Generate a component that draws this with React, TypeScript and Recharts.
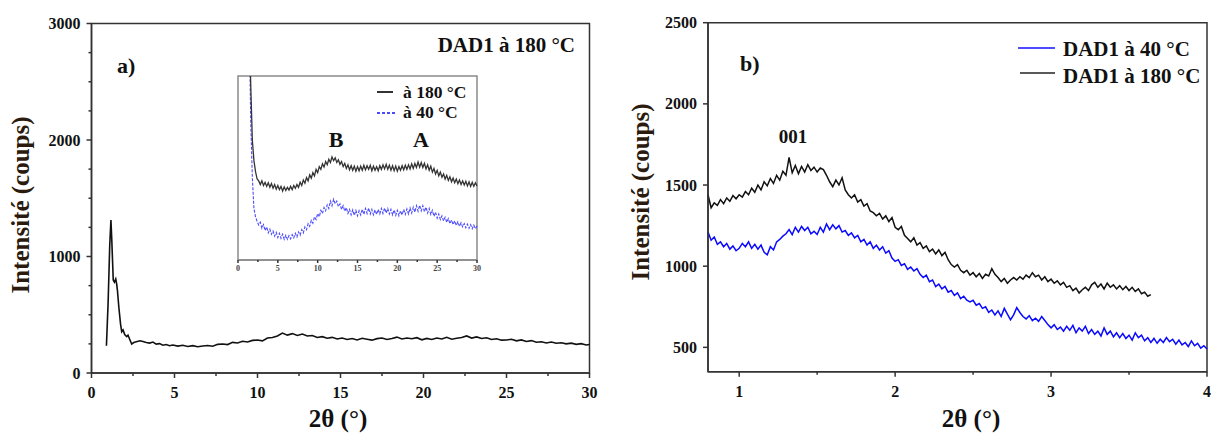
import React from 'react';
import { LineChart, Line, XAxis, YAxis, ReferenceArea } from 'recharts';

const FONT = '"Liberation Serif", "Times New Roman", serif';
const AXIS = '#333';
const TITLE_COLOR = '#2b1a0e';

// a) DAD1 à 180 °C, scan complet
const scan180: [number, number][] = [
  [0.9, 234], [1.0, 600], [1.1, 1100], [1.17, 1313], [1.22, 1150], [1.31, 798], [1.38, 780], [1.46, 807],
  [1.52, 760], [1.56, 712], [1.65, 560], [1.75, 420], [1.82, 355], [1.9, 370], [2.0, 330], [2.12, 312],
  [2.2, 325], [2.3, 290], [2.42, 249], [2.55, 262], [2.7, 268], [2.92, 277], [3.1, 270], [3.3, 262],
  [3.5, 257], [3.7, 266], [3.9, 248], [4.1, 252], [4.3, 238], [4.5, 244], [4.7, 234], [4.9, 240],
  [5.2, 231], [5.5, 238], [5.8, 228], [6.1, 235], [6.4, 226], [6.7, 232], [7.0, 236], [7.3, 230],
  [7.6, 246], [7.9, 249], [8.2, 244], [8.5, 263], [8.8, 258], [9.1, 272], [9.4, 266], [9.7, 280],
  [10.0, 283], [10.3, 276], [10.6, 300], [10.9, 305], [11.2, 318], [11.5, 343], [11.8, 325], [12.1, 338],
  [12.4, 322], [12.7, 335], [13.0, 318], [13.3, 322], [13.6, 305], [13.9, 312], [14.2, 298], [14.5, 306],
  [14.8, 292], [15.1, 300], [15.4, 288], [15.7, 296], [16.0, 284], [16.3, 298], [16.6, 290], [16.9, 282],
  [17.2, 295], [17.5, 300], [17.8, 288], [18.1, 296], [18.4, 308], [18.7, 292], [19.0, 300], [19.3, 294],
  [19.6, 303], [19.9, 285], [20.2, 297], [20.5, 288], [20.8, 300], [21.1, 292], [21.4, 306], [21.7, 290],
  [22.0, 298], [22.3, 305], [22.6, 318], [22.9, 300], [23.2, 310], [23.5, 296], [23.8, 302], [24.1, 288],
  [24.4, 294], [24.7, 282], [25.0, 283], [25.3, 290], [25.6, 276], [25.9, 284], [26.2, 270], [26.5, 278],
  [26.8, 264], [27.1, 268], [27.4, 258], [27.7, 266], [28.0, 255], [28.3, 260], [28.6, 250], [28.9, 256],
  [29.2, 246], [29.5, 252], [29.8, 240], [30.0, 244],
];

// encart : unités arbitraires
const inset180: [number, number][] = [
  [1.4, 2600], [1.6, 1900], [1.8, 1300], [2.0, 1080], [2.2, 960], [2.4, 880], [2.6, 860], [2.8, 820], [3.0, 860],
  [3.2, 810], [3.4, 845], [3.6, 800], [3.8, 840], [4.0, 790], [4.2, 830], [4.4, 780], [4.6, 820], [4.8, 770],
  [5.0, 810], [5.2, 765], [5.4, 800], [5.6, 750], [5.8, 795], [6.0, 755], [6.2, 790], [6.4, 760], [6.6, 800],
  [6.8, 765], [7.0, 810], [7.2, 780], [7.4, 820], [7.6, 790], [7.8, 845], [8.0, 810], [8.2, 870], [8.4, 835],
  [8.6, 895], [8.8, 860], [9.0, 925], [9.2, 890], [9.4, 950], [9.6, 915], [9.8, 985], [10.0, 950], [10.2, 1015],
  [10.4, 985], [10.6, 1045], [10.8, 1010], [11.0, 1070], [11.2, 1035], [11.4, 1095], [11.6, 1060], [11.8, 1120],
  [12.0, 1080], [12.2, 1110], [12.4, 1060], [12.6, 1090], [12.8, 1040], [13.0, 1070], [13.2, 1015], [13.4, 1050],
  [13.6, 995], [13.8, 1035], [14.0, 980], [14.2, 1025], [14.4, 975], [14.6, 1020], [14.8, 965], [15.0, 1015],
  [15.2, 970], [15.4, 1020], [15.6, 975], [15.8, 1030], [16.0, 980], [16.2, 1025], [16.4, 985], [16.6, 1030],
  [16.8, 970], [17.0, 1020], [17.2, 975], [17.4, 1015], [17.6, 970], [17.8, 1025], [18.0, 985], [18.2, 1035],
  [18.4, 990], [18.6, 1040], [18.8, 985], [19.0, 1030], [19.2, 975], [19.4, 1025], [19.6, 970], [19.8, 1020],
  [20.0, 965], [20.2, 1015], [20.4, 975], [20.6, 1025], [20.8, 980], [21.0, 1030], [21.2, 985], [21.4, 1035],
  [21.6, 990], [21.8, 1045], [22.0, 995], [22.2, 1050], [22.4, 1005], [22.6, 1065], [22.8, 1010], [23.0, 1060],
  [23.2, 1005], [23.4, 1050], [23.6, 990], [23.8, 1035], [24.0, 975], [24.2, 1020], [24.4, 955], [24.6, 995],
  [24.8, 935], [25.0, 975], [25.2, 915], [25.4, 955], [25.6, 900], [25.8, 935], [26.0, 880], [26.2, 920],
  [26.4, 865], [26.6, 905], [26.8, 850], [27.0, 890], [27.2, 840], [27.4, 880], [27.6, 830], [27.8, 870],
  [28.0, 820], [28.2, 860], [28.4, 815], [28.6, 855], [28.8, 805], [29.0, 850], [29.2, 800], [29.4, 845],
  [29.6, 800], [29.8, 840], [30.0, 805],
];

const inset40: [number, number][] = [
  [1.4, 2600], [1.6, 1500], [1.8, 900], [2.0, 560], [2.2, 470], [2.4, 420], [2.6, 380], [2.8, 410], [3.0, 345],
  [3.2, 385], [3.4, 320], [3.6, 360], [3.8, 295], [4.0, 335], [4.2, 280], [4.4, 315], [4.6, 260], [4.8, 300],
  [5.0, 245], [5.2, 290], [5.4, 235], [5.6, 280], [5.8, 225], [6.0, 270], [6.2, 225], [6.4, 265], [6.6, 230],
  [6.8, 275], [7.0, 240], [7.2, 290], [7.4, 250], [7.6, 305], [7.8, 270], [8.0, 330], [8.2, 295], [8.4, 360],
  [8.6, 330], [8.8, 395], [9.0, 365], [9.2, 430], [9.4, 400], [9.6, 470], [9.8, 440], [10.0, 505], [10.2, 470],
  [10.4, 540], [10.6, 505], [10.8, 570], [11.0, 535], [11.2, 600], [11.4, 560], [11.6, 640], [11.8, 590],
  [12.0, 660], [12.2, 610], [12.4, 640], [12.6, 580], [12.8, 610], [13.0, 550], [13.2, 590], [13.4, 530],
  [13.6, 570], [13.8, 505], [14.0, 550], [14.2, 490], [14.4, 545], [14.6, 485], [14.8, 540], [15.0, 480],
  [15.2, 535], [15.4, 490], [15.6, 550], [15.8, 495], [16.0, 560], [16.2, 505], [16.4, 565], [16.6, 500],
  [16.8, 550], [17.0, 490], [17.2, 545], [17.4, 495], [17.6, 550], [17.8, 500], [18.0, 560], [18.2, 505],
  [18.4, 565], [18.6, 510], [18.8, 560], [19.0, 500], [19.2, 550], [19.4, 490], [19.6, 545], [19.8, 485],
  [20.0, 540], [20.2, 480], [20.4, 535], [20.6, 490], [20.8, 550], [21.0, 495], [21.2, 555], [21.4, 500],
  [21.6, 565], [21.8, 510], [22.0, 575], [22.2, 520], [22.4, 590], [22.6, 530], [22.8, 595], [23.0, 535],
  [23.2, 590], [23.4, 525], [23.6, 575], [23.8, 510], [24.0, 560], [24.2, 495], [24.4, 540], [24.6, 475],
  [24.8, 520], [25.0, 455], [25.2, 500], [25.4, 440], [25.6, 480], [25.8, 425], [26.0, 465], [26.2, 410],
  [26.4, 450], [26.6, 395], [26.8, 435], [27.0, 385], [27.2, 425], [27.4, 375], [27.6, 415], [27.8, 365],
  [28.0, 405], [28.2, 360], [28.4, 395], [28.6, 350], [28.8, 390], [29.0, 345], [29.2, 385], [29.4, 340],
  [29.6, 380], [29.8, 340], [30.0, 370],
];

// b) petits angles
const small180: [number, number][] = [
  [0.80, 1440], [0.82, 1360], [0.84, 1390], [0.86, 1375], [0.88, 1410], [0.90, 1385], [0.92, 1420], [0.94, 1400],
  [0.96, 1435], [0.98, 1415], [1.00, 1440], [1.02, 1425], [1.04, 1460], [1.06, 1440], [1.08, 1480], [1.10, 1455],
  [1.12, 1500], [1.14, 1470], [1.16, 1520], [1.18, 1495], [1.20, 1540], [1.22, 1510], [1.24, 1560], [1.26, 1530],
  [1.28, 1585], [1.30, 1560], [1.32, 1670], [1.34, 1575], [1.36, 1620], [1.38, 1570], [1.40, 1615], [1.42, 1580],
  [1.44, 1625], [1.46, 1590], [1.48, 1610], [1.50, 1580], [1.52, 1605], [1.54, 1595], [1.56, 1560], [1.58, 1520],
  [1.60, 1490], [1.62, 1530], [1.64, 1500], [1.66, 1545], [1.68, 1470], [1.70, 1440], [1.72, 1420], [1.74, 1440],
  [1.76, 1395], [1.78, 1410], [1.80, 1370], [1.82, 1385], [1.84, 1340], [1.86, 1330], [1.88, 1310], [1.90, 1325],
  [1.92, 1290], [1.94, 1310], [1.96, 1275], [1.98, 1300], [2.00, 1240], [2.02, 1225], [2.04, 1245], [2.06, 1190],
  [2.08, 1170], [2.10, 1150], [2.12, 1175], [2.14, 1130], [2.16, 1145], [2.18, 1110], [2.20, 1125], [2.22, 1090],
  [2.24, 1105], [2.26, 1075], [2.28, 1100], [2.30, 1065], [2.32, 1085], [2.34, 1040], [2.36, 1010], [2.38, 995],
  [2.40, 1010], [2.42, 975], [2.44, 960], [2.46, 975], [2.48, 945], [2.50, 960], [2.52, 935], [2.54, 955],
  [2.56, 925], [2.58, 950], [2.60, 940], [2.62, 985], [2.64, 950], [2.66, 930], [2.68, 905], [2.70, 925],
  [2.72, 895], [2.74, 915], [2.76, 930], [2.78, 915], [2.80, 935], [2.82, 920], [2.84, 945], [2.86, 930],
  [2.88, 960], [2.90, 935], [2.92, 945], [2.94, 915], [2.96, 935], [2.98, 905], [3.00, 920], [3.02, 895],
  [3.04, 910], [3.06, 885], [3.08, 900], [3.10, 870], [3.12, 880], [3.14, 850], [3.16, 865], [3.18, 835],
  [3.20, 855], [3.22, 870], [3.24, 850], [3.26, 885], [3.28, 900], [3.30, 870], [3.32, 890], [3.34, 860],
  [3.36, 895], [3.38, 870], [3.40, 885], [3.42, 860], [3.44, 880], [3.46, 855], [3.48, 875], [3.50, 850],
  [3.52, 870], [3.54, 845], [3.56, 860], [3.58, 830], [3.60, 840], [3.62, 815], [3.64, 825],
];

const small40: [number, number][] = [
  [0.80, 1210], [0.82, 1160], [0.84, 1180], [0.86, 1135], [0.88, 1150], [0.90, 1120], [0.92, 1140], [0.94, 1105],
  [0.96, 1125], [0.98, 1095], [1.00, 1110], [1.02, 1140], [1.04, 1120], [1.06, 1150], [1.08, 1110], [1.10, 1135],
  [1.12, 1105], [1.14, 1130], [1.16, 1085], [1.18, 1070], [1.20, 1120], [1.22, 1100], [1.24, 1150], [1.26, 1165],
  [1.28, 1185], [1.30, 1200], [1.32, 1225], [1.34, 1195], [1.36, 1240], [1.38, 1210], [1.40, 1245], [1.42, 1220],
  [1.44, 1240], [1.46, 1200], [1.48, 1215], [1.50, 1195], [1.52, 1240], [1.54, 1210], [1.56, 1260], [1.58, 1225],
  [1.60, 1255], [1.62, 1230], [1.64, 1250], [1.66, 1210], [1.68, 1220], [1.70, 1190], [1.72, 1205], [1.74, 1175],
  [1.76, 1190], [1.78, 1150], [1.80, 1165], [1.82, 1130], [1.84, 1150], [1.86, 1110], [1.88, 1130], [1.90, 1100],
  [1.92, 1120], [1.94, 1080], [1.96, 1095], [1.98, 1050], [2.00, 1030], [2.02, 1040], [2.04, 1005], [2.06, 1015],
  [2.08, 980], [2.10, 995], [2.12, 970], [2.14, 985], [2.16, 950], [2.18, 930], [2.20, 945], [2.22, 905],
  [2.24, 915], [2.26, 875], [2.28, 890], [2.30, 860], [2.32, 875], [2.34, 840], [2.36, 850], [2.38, 820],
  [2.40, 835], [2.42, 800], [2.44, 815], [2.46, 790], [2.48, 780], [2.50, 790], [2.52, 760], [2.54, 770],
  [2.56, 740], [2.58, 750], [2.60, 715], [2.62, 730], [2.64, 700], [2.66, 725], [2.68, 690], [2.70, 740],
  [2.72, 705], [2.74, 670], [2.76, 700], [2.78, 745], [2.80, 715], [2.82, 690], [2.84, 675], [2.86, 695],
  [2.88, 665], [2.90, 680], [2.92, 660], [2.94, 690], [2.96, 665], [2.98, 640], [3.00, 620], [3.02, 640],
  [3.04, 610], [3.06, 625], [3.08, 600], [3.10, 630], [3.12, 605], [3.14, 635], [3.16, 590], [3.18, 620],
  [3.20, 600], [3.22, 630], [3.24, 585], [3.26, 610], [3.28, 580], [3.30, 600], [3.32, 570], [3.34, 620],
  [3.36, 580], [3.38, 600], [3.40, 565], [3.42, 590], [3.44, 560], [3.46, 585], [3.48, 555], [3.50, 575],
  [3.52, 545], [3.54, 590], [3.56, 560], [3.58, 575], [3.60, 540], [3.62, 560], [3.64, 530], [3.66, 555],
  [3.68, 525], [3.70, 550], [3.72, 530], [3.74, 560], [3.76, 535], [3.78, 550], [3.80, 520], [3.82, 545],
  [3.84, 515], [3.86, 530], [3.88, 505], [3.90, 540], [3.92, 510], [3.94, 525], [3.96, 495], [3.98, 510],
  [4.00, 490],
];

// graduations
const xTicksA = [0, 2.5, 5, 7.5, 10, 12.5, 15, 17.5, 20, 22.5, 25, 27.5, 30];
const xMajorsA = [0, 5, 10, 15, 20, 25, 30];
const yTicksA = [0, 250, 500, 750, 1000, 1250, 1500, 1750, 2000, 2250, 2500, 2750, 3000];
const yMajorsA = [0, 1000, 2000, 3000];
const xTicksB = [1, 1.5, 2, 2.5, 3, 3.5, 4];
const xMajorsB = [1, 2, 3, 4];
const yTicksB = [500, 1000, 1500, 2000, 2500];

const rows = (pts: [number, number][]) => pts.map(([x, y]) => ({ x, y }));

type TickOpts = { major: number; minor: number; gap: number; size: number; weight: string | number; color: string };

const makeXTick = (majors: number[], o: TickOpts) => (props: any) => {
  const { x, y, payload } = props;
  const isMajor = majors.includes(payload.value);
  return (
    <g>
      <line x1={x} y1={y} x2={x} y2={y + (isMajor ? o.major : o.minor)} stroke={AXIS} strokeWidth={1.5} />
      {isMajor && (
        <text x={x} y={y + o.gap} textAnchor="middle" fontFamily={FONT} fontSize={o.size} fontWeight={o.weight} fill={o.color}>
          {payload.value}
        </text>
      )}
    </g>
  );
};

const makeYTick = (majors: number[], o: TickOpts) => (props: any) => {
  const { x, y, payload } = props;
  const isMajor = majors.includes(payload.value);
  return (
    <g>
      <line x1={x - (isMajor ? o.major : o.minor)} y1={y} x2={x} y2={y} stroke={AXIS} strokeWidth={1.5} />
      {isMajor && (
        <text x={x - o.gap} y={y} dy="0.35em" textAnchor="end" fontFamily={FONT} fontSize={o.size} fontWeight={o.weight} fill={o.color}>
          {payload.value}
        </text>
      )}
    </g>
  );
};

const axisLine = { stroke: AXIS, strokeWidth: 1.5 };

const titleY: React.CSSProperties = {
  position: 'absolute',
  transform: 'translate(-50%, -50%) rotate(-90deg)',
  whiteSpace: 'nowrap',
  fontFamily: FONT,
  fontWeight: 'bold',
  fontSize: 25,
  color: TITLE_COLOR,
};
const titleX: React.CSSProperties = {
  position: 'absolute',
  transform: 'translateX(-50%)',
  whiteSpace: 'nowrap',
  fontFamily: FONT,
  fontWeight: 'bold',
  fontSize: 25,
  color: '#111',
  lineHeight: 1,
};

export default function App() {
  return (
    <div style={{ position: 'absolute', left: 0, top: 0, width: 1211, height: 436, background: '#fff', overflow: 'hidden' }}>
      {/* panneau a) */}
      <div style={{ position: 'absolute', left: 0, top: 0 }}>
        <LineChart width={600} height={436} margin={{ top: 23.5, right: 10.5, left: 0, bottom: 0 }}>
          <XAxis dataKey="x" type="number" domain={[0, 30]} ticks={xTicksA} interval={0} height={63}
            axisLine={axisLine} tickLine={false} tickSize={0} tickMargin={0}
            tick={makeXTick(xMajorsA, { major: 5, minor: 3, gap: 25, size: 16, weight: 'bold', color: '#111' })} />
          <YAxis type="number" domain={[0, 3000]} ticks={yTicksA} interval={0} width={91.5}
            axisLine={axisLine} tickLine={false} tickSize={0} tickMargin={0}
            tick={makeYTick(yMajorsA, { major: 5, minor: 3, gap: 11, size: 16, weight: 'bold', color: '#111' })} />
          <ReferenceArea x1={0} x2={30} y1={0} y2={3000} fill="none" stroke={AXIS} strokeWidth={1.5} />
          <Line data={rows(scan180)} dataKey="y" type="linear" stroke="#111" strokeWidth={1.6} dot={false} isAnimationActive={false} />
        </LineChart>
      </div>

      {/* encart */}
      <div style={{ position: 'absolute', left: 230, top: 70 }}>
        <LineChart width={255} height={210} margin={{ top: 6, right: 8, left: 8, bottom: 0 }}>
          <XAxis dataKey="x" type="number" domain={[0, 30]} ticks={xTicksA} interval={0} height={20}
            axisLine={{ stroke: '#8a8a8a', strokeWidth: 1.5 }} tickLine={false} tickSize={0} tickMargin={0}
            tick={makeXTick(xMajorsA, { major: 3, minor: 2, gap: 11, size: 8, weight: 'bold', color: '#444' })} />
          <YAxis type="number" domain={[0, 2000]} allowDataOverflow hide />
          <ReferenceArea x1={0} x2={30} y1={0} y2={2000} fill="none" stroke="#8a8a8a" strokeWidth={1.5} />
          <Line data={rows(inset40)} dataKey="y" type="linear" stroke="#4a4aff" strokeWidth={1.1} strokeDasharray="3 1.5" dot={false} isAnimationActive={false} />
          <Line data={rows(inset180)} dataKey="y" type="linear" stroke="#333" strokeWidth={1.3} dot={false} isAnimationActive={false} />
        </LineChart>
      </div>

      {/* panneau b) */}
      <div style={{ position: 'absolute', left: 600, top: 0 }}>
        <LineChart width={611} height={436} margin={{ top: 22.7, right: 4, left: 0, bottom: 0 }}>
          <XAxis dataKey="x" type="number" domain={[0.8, 4]} ticks={xTicksB} interval={0} height={64.3}
            axisLine={axisLine} tickLine={false} tickSize={0} tickMargin={0}
            tick={makeXTick(xMajorsB, { major: 5, minor: 3, gap: 25, size: 16, weight: 'bold', color: '#111' })} />
          <YAxis type="number" domain={[350, 2500]} ticks={yTicksB} interval={0} width={108}
            axisLine={axisLine} tickLine={false} tickSize={0} tickMargin={0}
            tick={makeYTick(yTicksB, { major: 5, minor: 3, gap: 11, size: 16, weight: 'bold', color: '#111' })} />
          <ReferenceArea x1={0.8} x2={4} y1={350} y2={2500} fill="none" stroke={AXIS} strokeWidth={1.5} />
          <Line data={rows(small40)} dataKey="y" type="linear" stroke="#0a0aff" strokeWidth={1.5} dot={false} isAnimationActive={false} />
          <Line data={rows(small180)} dataKey="y" type="linear" stroke="#111" strokeWidth={1.5} dot={false} isAnimationActive={false} />
        </LineChart>
      </div>

      {/* titres d'axes */}
      <div style={{ ...titleY, left: 21, top: 205 }}>Intensité (coups)</div>
      <div style={{ ...titleY, left: 641, top: 192 }}>Intensité (coups)</div>
      <div style={{ ...titleX, left: 338, top: 406 }}>2θ (°)</div>
      <div style={{ ...titleX, left: 971, top: 406 }}>2θ (°)</div>

      {/* annotations et légendes */}
      <svg width={1211} height={436} style={{ position: 'absolute', left: 0, top: 0, pointerEvents: 'none' }}>
        <g fontFamily={FONT} fontWeight="bold" fill="#111">
          <text x={575} y={52} fontSize={21} textAnchor="end">DAD1 à 180 °C</text>
          <text x={117} y={73} fontSize={22}>a)</text>
          <text x={740} y={71} fontSize={22}>b)</text>
          <text x={793} y={143} fontSize={19} textAnchor="middle">001</text>
          <text x={336} y={147} fontSize={22} textAnchor="middle">B</text>
          <text x={421} y={147} fontSize={22} textAnchor="middle">A</text>

          <line x1={377} y1={92} x2={393} y2={92} stroke="#333" strokeWidth={2} />
          <text x={403} y={98} fontSize={17.5}>à 180 °C</text>
          <line x1={377} y1={113} x2={395} y2={113} stroke="#4a4aff" strokeWidth={2} strokeDasharray="3 2" />
          <text x={403} y={118} fontSize={17.5}>à 40 °C</text>

          <line x1={1018} y1={48} x2={1055} y2={48} stroke="#4d4dff" strokeWidth={2} />
          <text x={1063} y={56} fontSize={21}>DAD1 à 40 °C</text>
          <line x1={1020} y1={73} x2={1055} y2={73} stroke="#222" strokeWidth={1.5} />
          <text x={1063} y={83} fontSize={21}>DAD1 à 180 °C</text>
        </g>
      </svg>
    </div>
  );
}
